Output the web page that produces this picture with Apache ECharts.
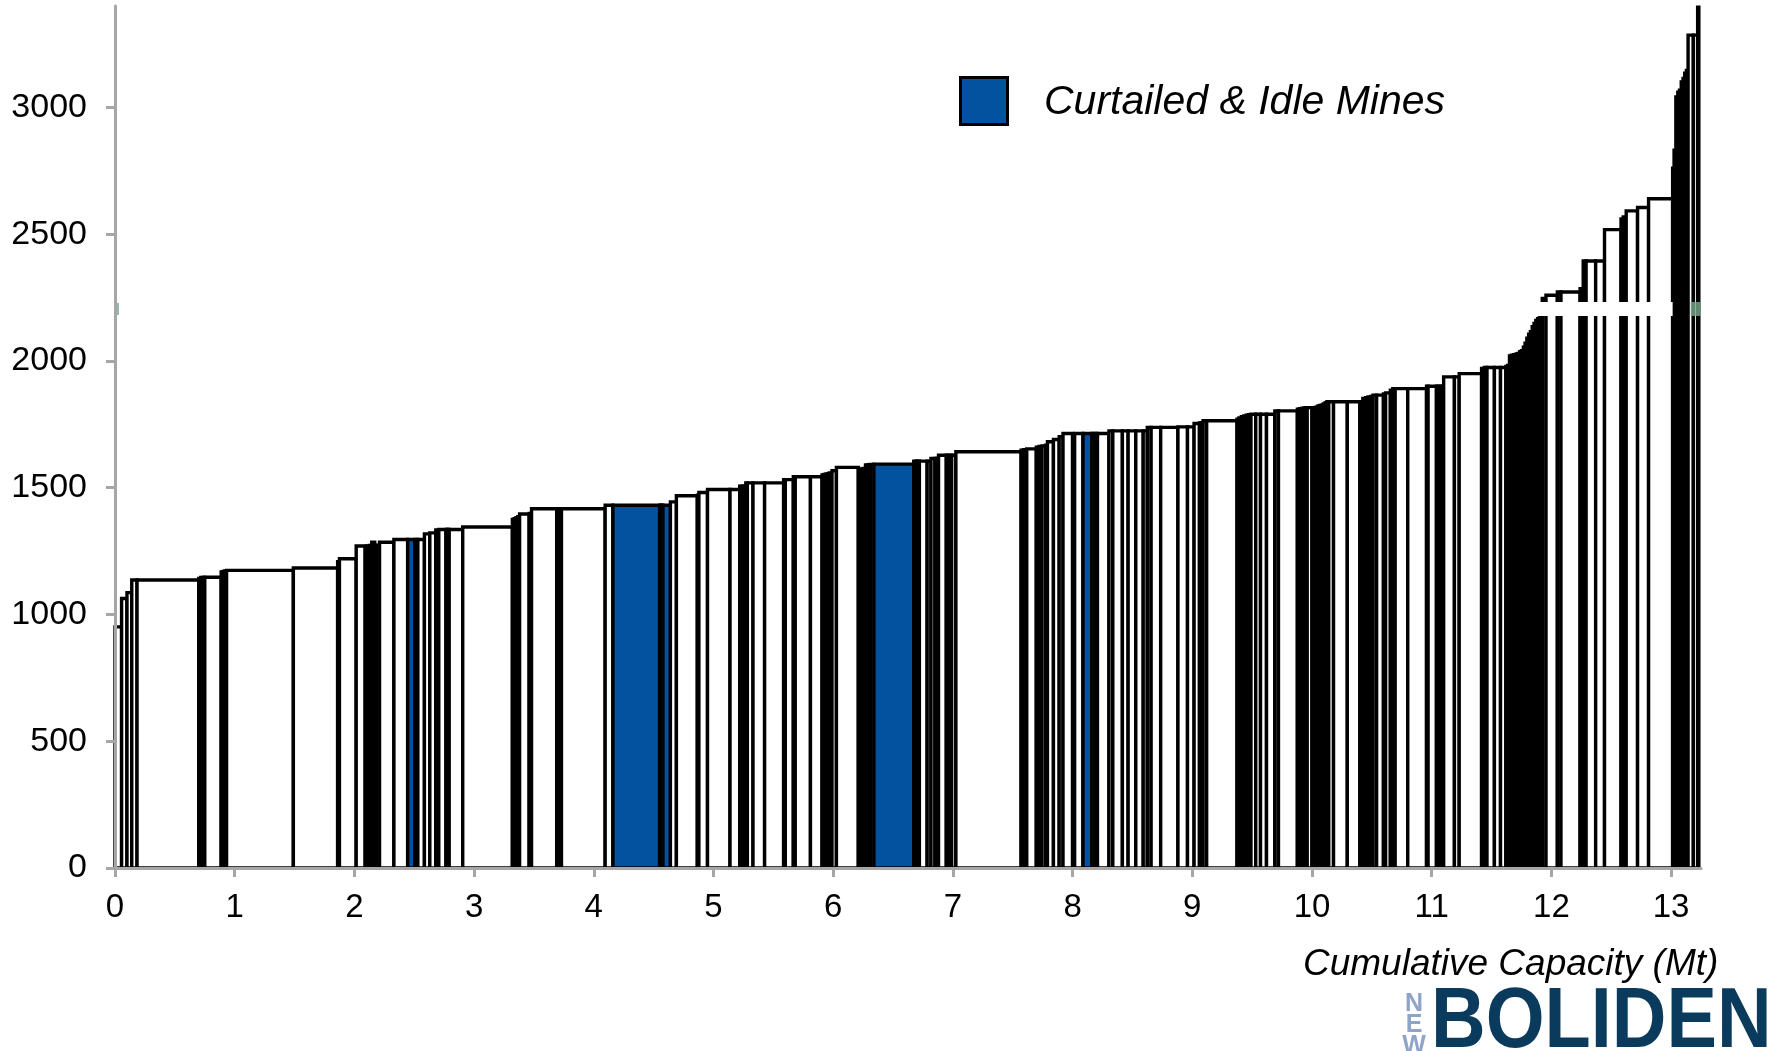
<!DOCTYPE html>
<html>
<head>
<meta charset="utf-8">
<script src="https://cdn.jsdelivr.net/npm/echarts@6/dist/echarts.min.js"></script>
<style>
html,body{margin:0;padding:0;background:#fff;}
#chart{width:1777px;height:1051px;}
</style>
</head>
<body>
<div id="chart"></div>
<script>
// Cumulative capacity (Mt) at the right edge of each mine's bar
var cumCapacity = [
0.055,0.100,0.140,0.184,0.700,0.717,0.733,0.750,0.887,0.902,
0.917,0.932,1.490,1.860,1.875,2.015,2.090,2.105,2.125,2.145,
2.170,2.190,2.210,2.330,2.445,2.505,2.530,2.585,2.630,2.680,
2.705,2.765,2.778,2.792,2.905,3.320,3.335,3.350,3.365,3.380,
3.460,3.480,3.690,3.710,3.730,4.095,4.160,4.550,4.565,4.578,
4.640,4.690,4.865,4.878,4.950,5.138,5.219,5.235,5.250,5.270,
5.283,5.330,5.427,5.586,5.600,5.667,5.683,5.810,5.907,5.922,
5.937,5.952,5.967,5.990,6.027,6.210,6.230,6.250,6.270,6.290,
6.310,6.340,6.673,6.690,6.705,6.720,6.785,6.817,6.850,6.865,
6.880,6.945,6.965,6.990,7.025,7.570,7.590,7.617,7.697,7.720,
7.745,7.776,7.790,7.840,7.888,7.920,8.000,8.017,8.087,8.160,
8.185,8.208,8.304,8.336,8.416,8.464,8.528,8.590,8.624,8.656,
8.736,8.880,8.960,9.015,9.060,9.075,9.090,9.120,9.374,9.390,
9.410,9.430,9.450,9.470,9.490,9.530,9.570,9.620,9.690,9.720,
9.878,9.895,9.915,9.935,9.950,9.960,10.000,10.012,10.024,10.037,
10.050,10.065,10.080,10.094,10.110,10.125,10.140,10.180,10.295,10.400,
10.425,10.448,10.468,10.490,10.510,10.540,10.597,10.615,10.655,10.675,
10.695,10.800,10.957,10.970,11.040,11.060,11.080,11.100,11.190,11.230,
11.417,11.440,11.462,11.524,11.575,11.620,11.635,11.650,11.665,11.685,
11.705,11.720,11.735,11.750,11.766,11.780,11.795,11.810,11.825,11.840,
11.855,11.870,11.885,11.900,11.912,11.924,11.955,12.050,12.080,12.240,
12.266,12.290,12.370,12.444,12.582,12.600,12.625,12.720,12.812,13.013,
13.025,13.040,13.056,13.070,13.085,13.100,13.114,13.128,13.142,13.186,
13.222,13.232
];
// Cash cost of each mine
var cashCost = [
951,1063,1086,1136,1136,1142,1146,1146,1147,1168,
1170,1172,1174,1183,1208,1220,1270,1268,1270,1272,
1285,1272,1273,1285,1296,1296,1296,1296,1318,1322,
1333,1335,1335,1335,1335,1345,1375,1378,1382,1386,
1396,1398,1417,1417,1417,1417,1431,1431,1431,1431,
1431,1444,1468,1470,1481,1493,1493,1506,1506,1506,
1519,1519,1519,1519,1532,1532,1543,1543,1543,1550,
1552,1553,1555,1558,1567,1580,1572,1574,1576,1590,
1591,1592,1593,1605,1605,1605,1605,1605,1615,1615,
1615,1628,1628,1628,1628,1642,1648,1650,1653,1660,
1663,1665,1668,1681,1690,1701,1714,1704,1714,1714,
1714,1714,1714,1724,1724,1724,1724,1724,1724,1738,
1738,1738,1740,1740,1753,1755,1756,1764,1764,1770,
1775,1780,1783,1786,1788,1790,1790,1790,1790,1803,
1803,1810,1812,1814,1815,1816,1816,1816,1816,1817,
1818,1822,1824,1825,1830,1835,1839,1839,1839,1839,
1839,1852,1855,1858,1860,1865,1865,1870,1874,1885,
1891,1891,1891,1900,1900,1900,1900,1900,1937,1937,
1950,1970,1974,1974,1974,1974,1978,1982,2020,2023,
2025,2028,2030,2036,2040,2054,2070,2090,2105,2115,
2135,2148,2160,2167,2180,2200,2246,2259,2272,2272,
2285,2394,2394,2394,2518,2560,2568,2592,2605,2640,
2760,2831,3041,3060,3068,3100,3114,3135,3146,3285,
3285,3395
];
// Indices of curtailed & idle mines
var curtailedIdx = [25, 47, 50, 82, 109, 167, 194];
var xTicks = [0,1,2,3,4,5,6,7,8,9,10,11,12,13];
var yTicks = [0,500,1000,1500,2000,2500,3000];
var bandLevel = 2205;
var bandEnd = 13.013;
var markerX = 13.205;
var legendName = 'Curtailed & Idle Mines';
var xTitle = 'Cumulative Capacity (Mt)';

var BLUE = '#02529f';
var FONT = '"Liberation Sans", Arial, sans-serif';

var bars = [];
var prev = 0;
var n = Math.min(cumCapacity.length, cashCost.length);
for (var i = 0; i < n; i++) {
  bars.push([prev, cumCapacity[i], cashCost[i], curtailedIdx.indexOf(i) >= 0 ? 1 : 0]);
  prev = cumCapacity[i];
}

var chart = echarts.init(document.getElementById('chart'), null, {renderer: 'canvas'});
var option = {
  backgroundColor: '#fff',
  animation: false,
  grid: {left: 115, right: 76, top: 6, bottom: 183},
  xAxis: {
    type: 'value', min: 0, max: 13.25, interval: 1, z: 5,
    splitLine: {show: false},
    axisLine: {lineStyle: {color: '#a6a6a6', width: 3}},
    axisTick: {show: true, length: 9, lineStyle: {color: '#a6a6a6', width: 3}, customValues: xTicks},
    axisLabel: {color: '#000', fontSize: 33, fontFamily: FONT, margin: 23, customValues: xTicks,
      formatter: function (v) { return String(v); }}
  },
  yAxis: {
    type: 'value', min: 0, max: 3400, interval: 500, z: 5,
    splitLine: {show: false},
    axisLine: {show: true, lineStyle: {color: '#a6a6a6', width: 3}},
    axisTick: {show: true, length: 9, lineStyle: {color: '#a6a6a6', width: 3}, customValues: yTicks},
    axisLabel: {color: '#000', fontSize: 34, fontFamily: FONT, margin: 28, customValues: yTicks,
      formatter: function (v) { return String(v); }}
  },
  series: [
    {
      type: 'custom',
      name: 'Mines',
      z: 2,
      data: bars,
      encode: {x: [0, 1], y: 2},
      renderItem: function (params, api) {
        var x0 = api.value(0), x1 = api.value(1), c = api.value(2), idle = api.value(3);
        var p0 = api.coord([x0, c]);
        var p1 = api.coord([x1, 0]);
        return {
          type: 'rect',
          shape: {x: p0[0], y: p0[1], width: p1[0] - p0[0], height: p1[1] - p0[1]},
          style: {fill: idle ? BLUE : '#ffffff', stroke: '#000', lineWidth: 3.4}
        };
      }
    },
    {
      type: 'line',
      name: 'band',
      z: 3,
      silent: true,
      symbol: 'none',
      data: [[0, bandLevel], [bandEnd, bandLevel]],
      lineStyle: {color: '#ffffff', width: 14}
    },
    {
      type: 'scatter',
      name: 'marker',
      z: 4,
      silent: true,
      symbol: 'rect',
      symbolSize: [10, 14],
      itemStyle: {color: '#78a98b'},
      data: [[markerX, bandLevel]]
    },
    {
      type: 'scatter',
      name: 'marker0',
      z: 4,
      silent: true,
      symbol: 'rect',
      symbolSize: [2, 12],
      symbolOffset: [3, 0],
      itemStyle: {color: '#78a98b'},
      data: [[0, bandLevel]]
    }
  ],
  graphic: [
    {type: 'rect', left: 959, top: 76, z: 10,
     shape: {width: 47, height: 47},
     style: {fill: BLUE, stroke: '#000', lineWidth: 3}},
    {type: 'text', x: 1044, y: 103, z: 10,
     style: {text: legendName, fill: '#000', font: 'italic 41px ' + FONT, verticalAlign: 'middle', align: 'left'}},
    {type: 'text', x: 1303, y: 965, z: 10,
     style: {text: xTitle, fill: '#000', font: 'italic 37px ' + FONT, verticalAlign: 'middle', align: 'left'}},
    {type: 'text', x: 1431, y: 1023, z: 10, scaleX: 0.88, originX: 0, originY: 0,
     style: {text: 'BOLIDEN', fill: '#0a3a5c', font: 'bold 86px ' + FONT, verticalAlign: 'middle', align: 'left'}},
    {type: 'text', x: 1414, y: 1004, z: 10,
     style: {text: 'N', fill: '#8ea4c8', font: 'bold 25px ' + FONT, verticalAlign: 'middle', align: 'center'}},
    {type: 'text', x: 1414, y: 1025, z: 10,
     style: {text: 'E', fill: '#8ea4c8', font: 'bold 25px ' + FONT, verticalAlign: 'middle', align: 'center'}},
    {type: 'text', x: 1414, y: 1046, z: 10,
     style: {text: 'W', fill: '#8ea4c8', font: 'bold 25px ' + FONT, verticalAlign: 'middle', align: 'center'}}
  ]
};
chart.setOption(option);
</script>
</body>
</html>
